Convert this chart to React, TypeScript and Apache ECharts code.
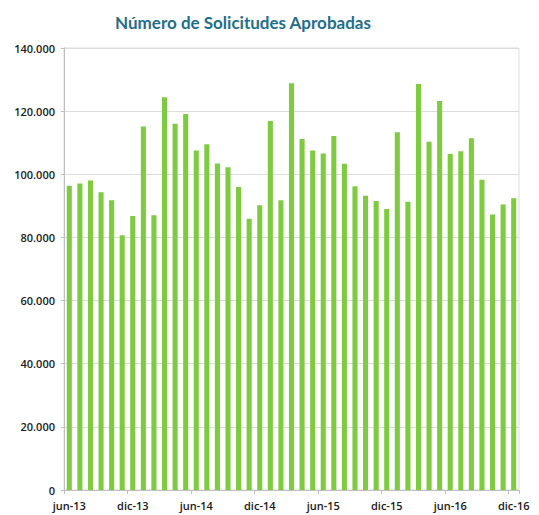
import React, { useEffect, useRef } from "react";
import * as echarts from "echarts";

const MONTHS = ["ene", "feb", "mar", "abr", "may", "jun", "jul", "ago", "sep", "oct", "nov", "dic"];
const categories: string[] = [];
for (let y = 13; y <= 16; y++) {
  for (let m = 0; m < 12; m++) {
    if (y === 13 && m < 5) continue;
    categories.push(`${MONTHS[m]}-${y}`);
  }
}

const approved = [
  96.4, 97.1, 98.0, 94.3, 91.8, 80.7, 86.8, 115.1, 87.0, 124.4, 116.0, 119.1,
  107.5, 109.5, 103.4, 102.2, 96.0, 85.9, 90.2, 116.9, 91.8, 128.8, 111.2, 107.5,
  106.6, 112.1, 103.3, 96.2, 93.2, 91.5, 89.0, 113.3, 91.3, 128.6, 110.3, 123.2,
  106.4, 107.3, 111.4, 98.3, 87.3, 90.4, 92.4,
].map((v) => Math.round(v * 1000));

const yTicks = [0, 20000, 40000, 60000, 80000, 100000, 120000, 140000];

const fmt = (v: number) =>
  v === 0 ? "0" : String(v).replace(/\B(?=(\d{3})+(?!\d))/g, ".");

export default function App() {
  const ref = useRef<HTMLDivElement>(null);
  useEffect(() => {
    document.body.style.margin = "0";
    const chart = echarts.init(ref.current!, null, { renderer: "svg" });
    chart.setOption({
      animation: false,
      backgroundColor: "#ffffff",
      title: {
        text: "Número de Solicitudes Aprobadas",
        left: 238,
        top: 9,
        textAlign: "center",
        textStyle: {
          fontFamily: "Lato",
          fontWeight: "bold",
          fontSize: 17,
          color: "#1f6e8c",
        },
      },
      grid: {
        left: 64,
        right: 20,
        top: 48,
        bottom: 25,
        show: true,
        borderColor: "#dcdcdc",
        borderWidth: 1,
      },
      xAxis: {
        type: "category",
        data: categories,
        boundaryGap: true,
        axisLine: { show: true, lineStyle: { color: "#bfbfbf" } },
        axisTick: { show: true, interval: 5, length: 4, lineStyle: { color: "#bfbfbf" } },
        axisLabel: {
          interval: 5,
          margin: 10,
          color: "#1a1a1a",
          fontFamily: "Open Sans",
          fontWeight: 600,
          fontSize: 11,
        },
      },
      yAxis: {
        type: "value",
        min: yTicks[0],
        max: yTicks[yTicks.length - 1],
        interval: yTicks[1] - yTicks[0],
        axisLine: { show: true, lineStyle: { color: "#bfbfbf" } },
        axisTick: { show: true, length: 3, lineStyle: { color: "#bfbfbf" } },
        splitLine: { show: true, lineStyle: { color: "#dcdcdc" } },
        axisLabel: {
          formatter: fmt,
          margin: 9,
          color: "#1a1a1a",
          fontFamily: "Open Sans",
          fontWeight: 600,
          fontSize: 11,
        },
      },
      series: [
        {
          type: "bar",
          data: approved,
          barCategoryGap: "52%",
          itemStyle: { color: "#7ecb40" },
        },
      ],
    });
    return () => chart.dispose();
  }, []);
  return <div ref={ref} style={{ width: 539, height: 515 }} />;
}
